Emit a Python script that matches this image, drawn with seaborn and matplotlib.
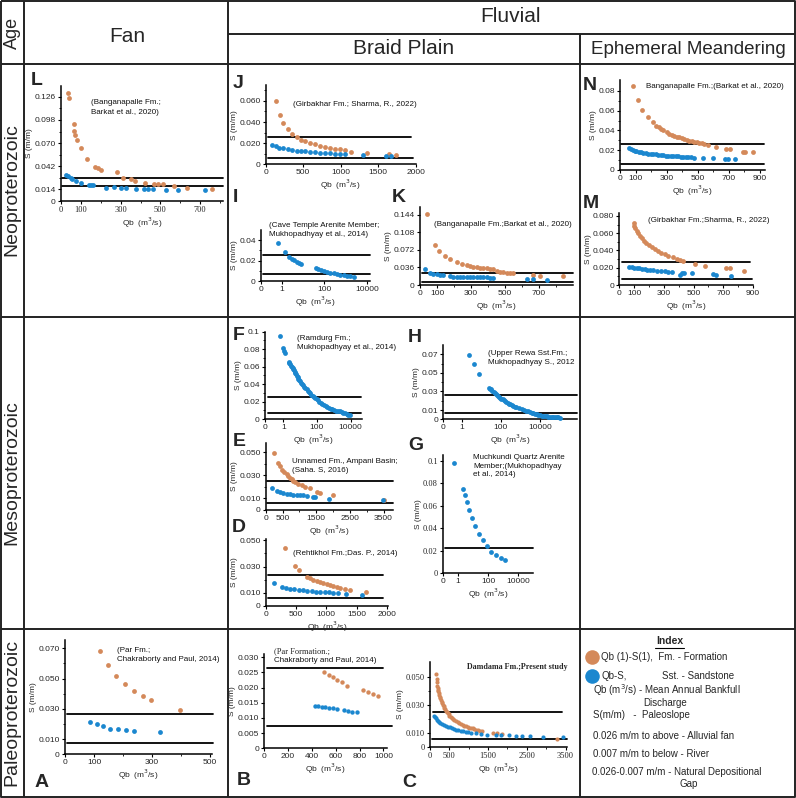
import numpy as np
import pandas as pd
import matplotlib
matplotlib.use("Agg")
import matplotlib.pyplot as plt
import seaborn as sns
from matplotlib.ticker import FixedLocator, NullLocator

sns.set_theme(style="white")
plt.rcParams['font.family'] = ['Liberation Sans', 'DejaVu Sans']

ORANGE = '#D4895A'
BLUE = '#1B87CF'
W, H = 796, 798

# ---------------- data ----------------
# L : Banganapalle Fm. (Fan)
L_or_qb = [37, 42, 65, 67, 72, 82, 99, 131, 173, 185, 200, 284, 314, 351, 373, 423, 468, 487, 515, 571, 633, 762]
L_or_s = [0.131, 0.125, 0.093, 0.085, 0.080, 0.074, 0.064, 0.051, 0.041, 0.040, 0.038, 0.035, 0.028, 0.026,
          0.024, 0.022, 0.021, 0.020, 0.020, 0.018, 0.016, 0.015]
L_bl_qb = [24, 37, 49, 57, 76, 101, 141, 151, 163, 227, 267, 301, 326, 376, 418, 440, 462, 529, 588, 722]
L_bl_s = [0.032, 0.030, 0.028, 0.026, 0.024, 0.022, 0.019, 0.019, 0.019, 0.016, 0.017, 0.016, 0.016, 0.015,
          0.015, 0.015, 0.014, 0.013, 0.013, 0.013]

# J : Girbakhar Fm.
J_or_qb = [133, 187, 236, 293, 351, 413, 467, 529, 596, 662, 729, 796, 862, 929, 996, 1062, 1138, 1351, 1644, 1733]
J_or_s = [0.0597, 0.047, 0.039, 0.033, 0.029, 0.0256, 0.0234, 0.022, 0.0205, 0.019, 0.0177, 0.0164, 0.0155,
          0.0145, 0.0142, 0.0136, 0.012, 0.0104, 0.0101, 0.0085]
J_bl_qb = [89, 133, 178, 236, 293, 351, 413, 467, 529, 596, 662, 729, 796, 862, 929, 996, 1062, 1293, 1604, 1675]
J_bl_s = [0.018, 0.017, 0.0158, 0.0152, 0.0142, 0.0136, 0.0126, 0.0126, 0.0123, 0.0117, 0.0114, 0.011, 0.0107,
          0.0104, 0.0101, 0.0098, 0.0095, 0.0085, 0.0076, 0.0076]

# I : Cave Temple Arenite Member
I_bl_qb = [0.81, 1.43, 2.27, 3.05, 3.9, 5.0, 6.5, 8.3, 41, 52, 70, 97, 139, 191, 276, 395, 565, 810, 1160, 1650, 2470]
I_bl_s = [0.0368, 0.0286, 0.0237, 0.0218, 0.0202, 0.0188, 0.0176, 0.0163, 0.013, 0.012, 0.011, 0.010, 0.0091,
          0.0081, 0.0075, 0.0068, 0.0061, 0.0059, 0.0052, 0.0049, 0.0042]

# K : Banganapalle Fm. (braid)
K_or_qb = [39, 88, 114, 147, 176, 216, 245, 275, 295, 314, 333, 353, 372, 392, 412, 431, 451, 471, 490, 510,
           530, 549, 667, 706, 843]
K_or_s = [0.145, 0.082, 0.0695, 0.059, 0.0525, 0.0477, 0.044, 0.041, 0.039, 0.0375, 0.0365, 0.0355, 0.0347,
          0.034, 0.033, 0.032, 0.0295, 0.027, 0.026, 0.025, 0.0245, 0.024, 0.0205, 0.0184, 0.019]
K_bl_qb = [29, 59, 78, 98, 118, 137, 176, 196, 216, 235, 255, 275, 294, 314, 333, 353, 372, 392, 412, 431,
           627, 667, 745]
K_bl_s = [0.032, 0.024, 0.023, 0.022, 0.021, 0.0205, 0.0175, 0.017, 0.017, 0.0168, 0.0165, 0.0165, 0.0163,
          0.016, 0.016, 0.0158, 0.0155, 0.0155, 0.0153, 0.015, 0.0117, 0.0117, 0.0102]

# N : Banganapalle Fm. (ephemeral)
N_or_qb = [87, 117, 145, 180, 210, 235, 250, 263, 280, 300, 317, 333, 349, 365, 382, 398, 414, 430, 446, 462,
           478, 495, 511, 527, 543, 565, 618, 683, 708, 790, 805, 855]
N_or_s = [0.085, 0.0708, 0.0607, 0.054, 0.049, 0.0449, 0.043, 0.0415, 0.040, 0.038, 0.0364, 0.0355, 0.0347,
          0.0338, 0.033, 0.0322, 0.0314, 0.0305, 0.0297, 0.0292, 0.0287, 0.0282, 0.0277, 0.027, 0.0263, 0.025,
          0.0229, 0.0209, 0.0209, 0.0185, 0.0185, 0.0179]
N_bl_qb = [55, 68, 81, 94, 106, 120, 134, 150, 167, 183, 199, 215, 231, 247, 263, 280, 296, 312, 328, 344, 360,
           376, 392, 408, 425, 441, 457, 478, 532, 601, 676, 694, 743]
N_bl_s = [0.0219, 0.021, 0.0202, 0.0197, 0.0192, 0.0187, 0.0182, 0.0175, 0.0169, 0.0165, 0.0162, 0.016, 0.0159,
          0.0152, 0.0148, 0.0147, 0.0145, 0.0143, 0.0142, 0.014, 0.0138, 0.0137, 0.0135, 0.0133, 0.0132, 0.013,
          0.0128, 0.0125, 0.0121, 0.0118, 0.0111, 0.0111, 0.0108]

# M : Girbakhar Fm. (ephemeral)
M_or_qb = [96, 101, 107, 116, 128, 139, 152, 168, 183, 201, 219, 239, 260, 282, 306, 331, 362, 389, 407, 430,
           508, 575, 716, 745, 841]
M_or_s = [0.0715, 0.0688, 0.0657, 0.063, 0.0599, 0.0572, 0.0541, 0.051, 0.0483, 0.046, 0.0437, 0.0414, 0.0394,
          0.0375, 0.0356, 0.0336, 0.0321, 0.0301, 0.029, 0.0282, 0.0243, 0.022, 0.0193, 0.0193, 0.0166]
M_bl_qb = [67, 83, 98, 116, 134, 152, 170, 188, 206, 224, 257, 284, 306, 329, 358, 407, 425, 434, 492, 631, 653, 754]
M_bl_s = [0.0213, 0.0209, 0.0201, 0.0197, 0.0193, 0.0186, 0.0182, 0.0178, 0.0174, 0.017, 0.0158, 0.0158, 0.0162,
          0.0155, 0.0147, 0.012, 0.0135, 0.0143, 0.0135, 0.0124, 0.012, 0.0104]

# F : Ramdurg Fm.
F_bl_qb = [0.82, 1.0, 1.15, 1.32, 2.07, 2.3, 2.6, 2.9, 3.27, 3.6, 3.93, 4.3, 4.7, 5.2, 5.66, 6.3, 7.1, 8.0, 8.9,
           10.2, 11.7, 13.4, 15.4, 17.7, 20.3, 24, 28, 33, 38.5, 46, 55, 66, 79, 95, 114, 140, 173, 210, 260, 330,
           412, 520, 650, 820, 1025, 1400, 1850, 2400, 2930, 3700, 4640, 5800, 7340, 9200]
F_bl_s = [0.0954, 0.081, 0.0779, 0.076, 0.0656, 0.064, 0.0628, 0.0612, 0.060, 0.0585, 0.0573, 0.0557, 0.0542,
          0.0527, 0.0511, 0.0494, 0.0477, 0.0462, 0.0447, 0.0431, 0.0416, 0.040, 0.0385, 0.037, 0.0355, 0.0339,
          0.0324, 0.0309, 0.0294, 0.028, 0.0267, 0.0253, 0.024, 0.0227, 0.0214, 0.020, 0.0187, 0.0175, 0.0164,
          0.0152, 0.0141, 0.0129, 0.0118, 0.011, 0.0103, 0.0097, 0.0092, 0.0086, 0.008, 0.0072, 0.0065, 0.0057,
          0.005, 0.0046]

# E : Unnamed Fm., Ampani Basin
E_or_qb = [255, 356, 424, 493, 552, 620, 671, 720, 772, 820, 869, 967, 1068, 1166, 1315, 1531, 1611, 2006, 3500]
E_or_s = [0.049, 0.041, 0.038, 0.035, 0.033, 0.031, 0.0296, 0.028, 0.0267, 0.025, 0.0239, 0.0224, 0.0213,
          0.0201, 0.0187, 0.0153, 0.0149, 0.0129, 0.009]
E_bl_qb = [178, 326, 424, 522, 620, 720, 819, 918, 1018, 1117, 1216, 1394, 1464, 1890, 3470]
E_bl_s = [0.0187, 0.0167, 0.0158, 0.0149, 0.0142, 0.0138, 0.0134, 0.013, 0.0129, 0.0126, 0.0122, 0.0112,
          0.0112, 0.0098, 0.0086]

# D : Rehtikhol Fm.
D_or_qb = [325, 485, 551, 678, 733, 788, 843, 898, 953, 1008, 1063, 1118, 1174, 1229, 1311, 1394, 1658]
D_or_s = [0.0441, 0.0308, 0.0274, 0.0223, 0.0213, 0.020, 0.019, 0.0182, 0.0174, 0.0167, 0.0159, 0.0151,
          0.0144, 0.0138, 0.0133, 0.0123, 0.0103]
D_bl_qb = [143, 264, 331, 402, 474, 545, 617, 689, 760, 832, 904, 975, 1047, 1118, 1190, 1328, 1592]
D_bl_s = [0.0172, 0.0146, 0.0138, 0.0133, 0.0128, 0.0123, 0.0118, 0.0115, 0.0113, 0.011, 0.0108, 0.0105,
          0.0103, 0.010, 0.010, 0.0095, 0.0085]

# H : Upper Rewa Sst. Fm.
H_bl_qb = [2.46, 4.26, 7.67, 25.9, 28.5, 31.4, 36.7, 43, 48, 54.4, 61, 68.8, 80, 90.7, 105, 123, 143, 163, 190,
           222, 260, 303, 370, 434, 510, 595, 820, 1150, 1500, 1900, 2400, 3060, 3700, 4600, 5600, 6800, 8200,
           10000, 12000, 14800, 18000, 21800, 26500, 32000, 39000, 47500, 58000, 70000, 85000, 103000]
H_bl_s = [0.0696, 0.060, 0.0493, 0.0332, 0.0327, 0.0321, 0.0307, 0.0293, 0.0282, 0.0271, 0.026, 0.025, 0.0241,
          0.0232, 0.0223, 0.0214, 0.0205, 0.0196, 0.0187, 0.0179, 0.017, 0.0161, 0.0152, 0.0143, 0.0136, 0.0129,
          0.0118, 0.0107, 0.010, 0.0093, 0.0086, 0.0079, 0.0072, 0.0064, 0.0059, 0.0054, 0.0048, 0.0043, 0.004,
          0.0036, 0.0034, 0.0032, 0.003, 0.0029, 0.0027, 0.0025, 0.0023, 0.0021, 0.002, 0.0018]

# G : Muchkundi Quartz Arenite Member
G_bl_qb = [0.7, 2.2, 3.0, 4.1, 5.6, 8.9, 14, 26, 50, 92, 170, 320, 700, 1300]
G_bl_s = [0.098, 0.075, 0.069, 0.063, 0.056, 0.049, 0.042, 0.035, 0.029, 0.024, 0.019, 0.016, 0.013, 0.0115]

# A : Par Fm. (Fan)
A_or_qb = [121, 149, 175, 206, 236, 268, 297, 397]
A_or_s = [0.0684, 0.0591, 0.0519, 0.0464, 0.042, 0.0387, 0.036, 0.0295]
A_bl_qb = [86, 109, 132, 155, 182, 209, 237, 326]
A_bl_s = [0.0211, 0.0198, 0.0187, 0.0169, 0.0169, 0.016, 0.0156, 0.0145]

# B : Par Formation (braid)
B_or_qb = [504, 543, 580, 613, 653, 692, 832, 871, 916, 958]
B_or_s = [0.0252, 0.0243, 0.0235, 0.0226, 0.0219, 0.0204, 0.0193, 0.0187, 0.018, 0.0172]
B_bl_qb = [426, 454, 482, 510, 546, 580, 608, 672, 700, 734, 776]
B_bl_s = [0.0141, 0.0139, 0.0137, 0.0135, 0.0132, 0.0132, 0.013, 0.0125, 0.0124, 0.0121, 0.0119]

# C : Damdama Fm. (present study)
C_or_qb = [158, 170, 184, 192, 201, 210, 218, 230, 244, 256, 269, 285, 303, 320, 338, 355, 372, 394, 415, 436,
           457, 478, 500, 530, 560, 595, 628, 670, 714, 756, 799, 842, 885, 927, 970, 1013, 1056, 1098, 1141,
           1190, 1244, 1300, 1355, 1637, 1739, 1868, 3278]
C_or_s = [0.0521, 0.049, 0.0464, 0.044, 0.0421, 0.041, 0.0398, 0.0386, 0.0374, 0.0362, 0.035, 0.0338, 0.0326,
          0.0314, 0.0302, 0.0292, 0.0283, 0.0271, 0.026, 0.0251, 0.0243, 0.0234, 0.0226, 0.0219, 0.0212, 0.0203,
          0.0195, 0.0187, 0.0179, 0.0173, 0.0167, 0.0161, 0.0155, 0.015, 0.0145, 0.0141, 0.0138, 0.0134, 0.0131,
          0.0126, 0.0121, 0.0119, 0.0117, 0.0105, 0.0105, 0.0098, 0.006]
C_bl_qb = [115, 136, 158, 180, 201, 235, 269, 312, 355, 406, 457, 508, 560, 615, 671, 735, 799, 863, 927, 991,
           1056, 1184, 1312, 1483, 1697, 1825, 2038, 2209, 2380, 2594, 2919, 3423]
C_bl_s = [0.0226, 0.0216, 0.0207, 0.0197, 0.0188, 0.0179, 0.0171, 0.0165, 0.016, 0.0154, 0.0148, 0.0142,
          0.0136, 0.0131, 0.0126, 0.0121, 0.0117, 0.0114, 0.0112, 0.0108, 0.0105, 0.010, 0.0095, 0.0088, 0.0086,
          0.0088, 0.0088, 0.0083, 0.0081, 0.0079, 0.0076, 0.0071]

# ---------------- figure ----------------
fig = plt.figure(figsize=(W / 100, H / 100), dpi=100)
bg = fig.add_axes([0, 0, 1, 1], zorder=-5)
bg.set_xlim(0, W)
bg.set_ylim(H, 0)
bg.axis('off')

GL = dict(color='#222222', lw=1.4, solid_capstyle='butt')
# outer frame and grid
bg.plot([1, 795, 795, 1, 1], [1, 1, 797, 797, 1], **GL)
bg.plot([24, 24], [1, 797], **GL)
bg.plot([228, 228], [1, 797], **GL)
bg.plot([580, 580], [34, 797], **GL)
bg.plot([228, 795], [34, 34], **GL)
for yy in (64, 317, 629):
    bg.plot([1, 795], [yy, yy], **GL)

# header texts
bg.text(12, 33, 'Age', rotation=90, ha='center', va='center', fontsize=13)
bg.text(127, 36, 'Fan', ha='center', va='center', fontsize=15)
bg.text(511, 16, 'Fluvial', ha='center', va='center', fontsize=15)
bg.text(404, 49, 'Braid Plain', ha='center', va='center', fontsize=15)
bg.text(688, 49, 'Ephemeral Meandering', ha='center', va='center', fontsize=13.5)
bg.text(12, 190, 'Neoproterozoic', rotation=90, ha='center', va='center', fontsize=14)
bg.text(12, 473, 'Mesoproterozoic', rotation=90, ha='center', va='center', fontsize=14)
bg.text(12, 712, 'Paleoproterozoic', rotation=90, ha='center', va='center', fontsize=14)

# panel letters
for lab, x, y in [('L', 31, 85), ('J', 233, 88), ('I', 233, 202), ('K', 392, 202), ('N', 583, 90),
                  ('M', 583, 208), ('F', 233, 340), ('E', 233, 446), ('D', 232, 532), ('H', 408, 342),
                  ('G', 408, 450), ('A', 35, 787), ('B', 237, 785), ('C', 402, 787)]:
    bg.text(x, y, lab, fontsize=14, fontweight='bold', ha='left', va='baseline')


def panel(l, t, r, b, xlim, ylim, xticks, xlabels, yticks, ylabels, orange=None, blue=None, hl=(),
          xminor=(), yminor=(), symlog=None, s=12, serif_x=False, serif_y=False):
    ax = fig.add_axes([l / W, 1 - b / H, (r - l) / W, (b - t) / H])
    ax.set_facecolor('none')
    if symlog is not None:
        ax.set_xscale('symlog', linthresh=1, linscale=symlog)
    for (yv, f0, f1) in hl:
        ax.axhline(yv, xmin=f0, xmax=f1, color='black', lw=1.3, clip_on=False, zorder=1)
    if orange is not None:
        sns.scatterplot(x=orange[0], y=orange[1], ax=ax, color=ORANGE, s=s, linewidth=0, zorder=3,
                        legend=False, clip_on=False)
    if blue is not None:
        sns.scatterplot(x=blue[0], y=blue[1], ax=ax, color=BLUE, s=s, linewidth=0, zorder=3,
                        legend=False, clip_on=False)
    ax.set_xlim(xlim)
    ax.set_ylim(ylim)
    ax.set_xticks(xticks, xlabels)
    ax.set_yticks(yticks, ylabels)
    if xminor:
        ax.xaxis.set_minor_locator(FixedLocator(xminor))
    else:
        ax.xaxis.set_minor_locator(NullLocator())
    if yminor:
        ax.yaxis.set_minor_locator(FixedLocator(yminor))
    else:
        ax.yaxis.set_minor_locator(NullLocator())
    for sp in ('top', 'right'):
        ax.spines[sp].set_visible(False)
    for sp in ('left', 'bottom'):
        ax.spines[sp].set_color('black')
        ax.spines[sp].set_linewidth(1.1)
    ax.tick_params(which='major', direction='out', length=2.5, width=0.8, labelsize=6, pad=1.2,
                   color='black', bottom=True, left=True)
    ax.tick_params(which='minor', direction='out', length=1.6, width=0.6, color='black',
                   bottom=True, left=True)
    if serif_x:
        for tl in ax.get_xticklabels():
            tl.set_family('Liberation Serif')
    if serif_y:
        for tl in ax.get_yticklabels():
            tl.set_family('Liberation Serif')
    ax.set_xlabel('Qb  (m$^3$/s)', fontsize=6, labelpad=1)
    ax.set_ylabel('S (m/m)', fontsize=6, labelpad=1)
    ax.grid(False)
    return ax


# L
panel(61, 86, 223, 201, (0, 815), (0, 0.139), [0, 100, 300, 500, 700], ['0', '100', '300', '500', '700'],
      [0, 0.014, 0.042, 0.070, 0.098, 0.126], ['0', '0.014', '0.042', '0.070', '0.098', '0.126'],
      orange=(L_or_qb, L_or_s), blue=(L_bl_qb, L_bl_s),
      hl=[(0.0272, 0.005, 1.0), (0.0187, 0.005, 1.0)], xminor=[200, 400, 600, 800],
      yminor=[0.028, 0.056, 0.084, 0.112], serif_x=True)
# J
panel(265.7, 85, 415.7, 164.3, (0, 2000), (0, 0.075), [0, 500, 1000, 1500, 2000],
      ['0', '500', '1000', '1500', '2000'], [0, 0.02, 0.04, 0.06], ['0', '0.020', '0.040', '0.060'],
      orange=(J_or_qb, J_or_s), blue=(J_bl_qb, J_bl_s),
      hl=[(0.0256, 0.017, 0.967), (0.0063, 0.017, 0.984)], yminor=[0.01, 0.03, 0.05, 0.07])
# I
panel(261, 230, 370, 281, (0, 14000), (0, 0.05), [0, 1, 100, 10000], ['0', '1', '100', '10000'],
      [0, 0.02, 0.04], ['0', '0.02', '0.04'], blue=(I_bl_qb, I_bl_s),
      hl=[(0.0254, 0.02, 1.0), (0.0065, 0.02, 1.0)], symlog=0.875, yminor=[0.01, 0.03])
# K
panel(420, 207, 573, 285, (0, 900), (0, 0.16), [0, 100, 300, 500, 700], ['0', '100', '300', '500', '700'],
      [0, 0.036, 0.072, 0.108, 0.144], ['0', '0.036', '0.072', '0.108', '0.144'],
      orange=(K_or_qb, K_or_s), blue=(K_bl_qb, K_bl_s),
      hl=[(0.024, 0.013, 1.0), (0.006, 0.013, 1.0)], xminor=[200, 400, 600, 800])
# N
panel(620, 80, 765, 170, (0, 935), (0, 0.091), [0, 100, 300, 500, 700, 900],
      ['0', '100', '300', '500', '700', '900'], [0, 0.02, 0.04, 0.06, 0.08],
      ['0', '0.02', '0.04', '0.06', '0.08'], orange=(N_or_qb, N_or_s), blue=(N_bl_qb, N_bl_s),
      hl=[(0.0263, 0.005, 0.993), (0.0064, 0.005, 0.993)], xminor=[200, 400, 600, 800],
      yminor=[0.01, 0.03, 0.05, 0.07])
# M
panel(619.3, 213.3, 753, 285, (0, 900), (0, 0.083), [0, 100, 300, 500, 700, 900],
      ['0', '100', '300', '500', '700', '900'], [0, 0.02, 0.04, 0.06, 0.08],
      ['0', '0.020', '0.040', '0.060', '0.080'], orange=(M_or_qb, M_or_s), blue=(M_bl_qb, M_bl_s),
      hl=[(0.0263, 0.018, 0.975), (0.0073, 0.018, 0.99)], xminor=[200, 400, 600, 800],
      yminor=[0.01, 0.03, 0.05, 0.07])
# F
panel(265, 331.7, 361.7, 419, (0, 46000), (0, 0.1), [0, 1, 100, 10000], ['0', '1', '100', '10000'],
      [0, 0.02, 0.04, 0.06, 0.08, 0.1], ['0', '0.02', '0.04', '0.06', '0.08', '0.1'],
      blue=(F_bl_qb, F_bl_s), hl=[(0.0256, 0.034, 0.99), (0.0073, 0.034, 0.99)], symlog=0.98,
      yminor=[0.01, 0.03, 0.05, 0.07, 0.09])
# E
panel(265.7, 443, 393.3, 510, (0, 3790), (0, 0.058), [0, 500, 1500, 2500, 3500],
      ['0', '500', '1500', '2500', '3500'], [0, 0.01, 0.03, 0.05], ['0', '0.010', '0.030', '0.050'],
      orange=(E_or_qb, E_or_s), blue=(E_bl_qb, E_bl_s),
      hl=[(0.025, 0.008, 1.0), (0.0058, 0.008, 1.0)], xminor=[1000, 2000, 3000], yminor=[0.02, 0.04])
# D
panel(265.7, 539, 388, 606, (0, 2020), (0, 0.051), [0, 500, 1000, 1500, 2000],
      ['0', '500', '1000', '1500', '2000'], [0, 0.01, 0.03, 0.05], ['0', '0.010', '0.030', '0.050'],
      orange=(D_or_qb, D_or_s), blue=(D_bl_qb, D_bl_s),
      hl=[(0.0236, 0.021, 0.96), (0.0063, 0.021, 0.96)], yminor=[0.02, 0.04])
# H
panel(443.3, 345, 576.7, 419.3, (0, 742000), (0, 0.08), [0, 1, 100, 10000], ['0', '1', '100', '10000'],
      [0, 0.01, 0.03, 0.05, 0.07], ['0', '0.01', '0.03', '0.05', '0.07'], blue=(H_bl_qb, H_bl_s),
      hl=[(0.026, 0.013, 1.0), (0.0071, 0.013, 1.0)], symlog=0.84, yminor=[0.02, 0.04, 0.06])
# G
panel(443, 455, 533, 573, (0, 100000), (0, 0.105), [0, 1, 100, 10000], ['0', '1', '100', '10000'],
      [0, 0.02, 0.04, 0.06, 0.08, 0.1], ['0', '0.02', '0.04', '0.06', '0.08', '0.1'],
      blue=(G_bl_qb, G_bl_s), hl=[(0.022, 0.02, 1.0)], symlog=0.9, serif_y=True)
# A
panel(65, 640, 211.7, 754.3, (0, 505), (0, 0.0754), [0, 100, 300, 500], ['0', '100', '300', '500'],
      [0, 0.01, 0.03, 0.05, 0.07], ['0', '0.010', '0.030', '0.050', '0.070'],
      orange=(A_or_qb, A_or_s), blue=(A_bl_qb, A_bl_s),
      hl=[(0.0266, 0.012, 1.007), (0.0075, 0.012, 1.007)], xminor=[200, 400],
      yminor=[0.02, 0.04, 0.06])
# B
panel(264.3, 654.3, 386.7, 748.3, (0, 1028), (0, 0.031), [0, 200, 400, 600, 800, 1000],
      ['0', '200', '400', '600', '800', '1000'], [0, 0.005, 0.010, 0.015, 0.020, 0.025, 0.030],
      ['0', '0.005', '0.010', '0.015', '0.020', '0.025', '0.030'],
      orange=(B_or_qb, B_or_s), blue=(B_bl_qb, B_bl_s),
      hl=[(0.0265, 0.02, 0.972), (0.0075, 0.02, 1.046)], s=10)
# C
panel(430, 661.7, 566.7, 747.3, (0, 3530), (0, 0.061), [0, 500, 1500, 2500, 3500],
      ['0', '500', '1500', '2500', '3500'], [0, 0.01, 0.03, 0.05], ['0', '0.010', '0.030', '0.050'],
      orange=(C_or_qb, C_or_s), blue=(C_bl_qb, C_bl_s),
      hl=[(0.0255, 0.024, 0.963), (0.006, 0.012, 1.0)], xminor=[1000, 2000, 3000], yminor=[0.02, 0.04],
      s=9, serif_x=True, serif_y=True)

# citation texts
TX = dict(fontsize=5.8, ha='left', va='center', color='#111111')
for x, y, t in [(91, 102.7, '(Banganapalle Fm.;'), (91, 112.3, 'Barkat et al., 2020)'),
                (293, 104.3, '(Girbakhar Fm.; Sharma, R., 2022)'),
                (269.3, 225.7, '(Cave Temple Arenite Member;'), (269.3, 235, 'Mukhopadhyay et al., 2014)'),
                (434, 225, '(Banganapalle Fm.;Barkat et al., 2020)'),
                (645.7, 86.7, 'Banganapalle Fm.;(Barkat et al., 2020)'),
                (648.3, 221, '(Girbakhar Fm.;Sharma, R., 2022)'),
                (296.7, 339, '(Ramdurg Fm.;'), (296.7, 347.7, 'Mukhopadhyay et al., 2014)'),
                (292.3, 461.7, 'Unnamed Fm., Ampani Basin;'), (292.3, 470.7, '(Saha. S, 2016)'),
                (293.3, 553.3, '(Rehtikhol Fm.;Das. P., 2014)'),
                (487.7, 353.3, '(Upper Rewa Sst.Fm.;'), (487.7, 362.7, 'Mukhopadhyay S., 2012'),
                (473.3, 457.3, 'Muchkundi Quartz Arenite'), (473.3, 466.7, 'Member;(Mukhopadhyay'),
                (473.3, 475, 'et al., 2014)'),
                (116.7, 650, '(Par Fm.;'), (116.7, 659.3, 'Chakraborty and Paul, 2014)'),
                (274.3, 660.7, 'Chakraborty and Paul, 2014)')]:
    bg.text(x, y, t, **TX)
bg.text(274.3, 650.7, '(Par Formation.;', fontsize=6, ha='left', va='center', family='Liberation Serif')
bg.text(466.7, 666.7, 'Damdama Fm.;Present study', fontsize=5.8, ha='left', va='center',
        family='Liberation Serif', fontweight='bold')

# index box
bg.text(669.5, 641.5, 'Index', fontsize=7.5, fontweight='bold', ha='center', va='center')
bg.plot([655, 684], [647.5, 647.5], color='black', lw=0.8)
bg.scatter([591.7], [657.3], s=110, color=ORANGE, linewidths=0)
bg.scatter([592.3], [675.7], s=110, color=BLUE, linewidths=0)
IX = dict(fontsize=7, ha='left', va='center')
bg.text(600.7, 657.3, 'Qb (1)-S(1),  Fm. - Formation', **IX)
bg.text(601.7, 675.7, 'Qb-S,', **IX)
bg.text(661.7, 675.7, 'Sst. - Sandstone', **IX)
bg.text(592.7, 690.5, 'Qb (m$^3$/s) - Mean Annual Bankfull', **IX)
bg.text(643.3, 703.5, 'Discharge', **IX)
bg.text(592.7, 715.5, 'S(m/m)   -  Paleoslope', **IX)
bg.text(592.7, 735.7, '0.026 m/m to above - Alluvial fan', **IX)
bg.text(592.7, 754.3, '0.007 m/m to below - River', **IX)
bg.text(591.7, 771.7, '0.026-0.007 m/m - Natural Depositional', **IX)
bg.text(680, 784.3, 'Gap', **IX)

fig.savefig('out.png', dpi=100)
